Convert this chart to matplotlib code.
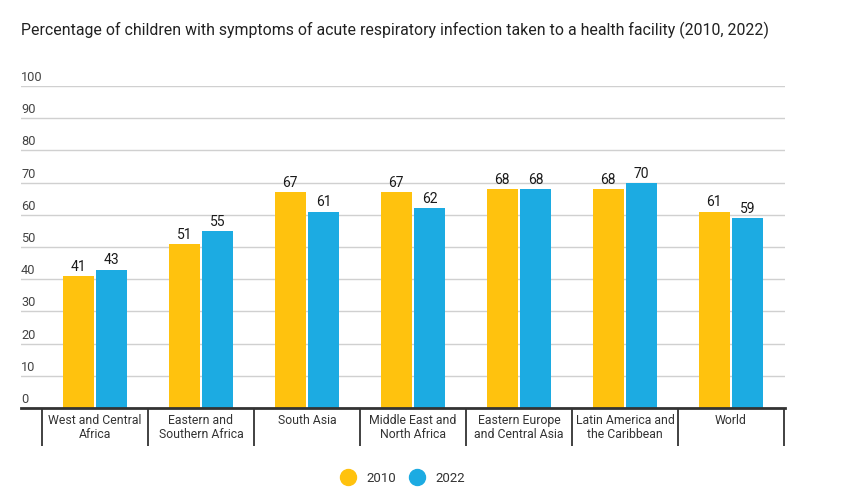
import matplotlib
matplotlib.use("Agg")
import matplotlib.pyplot as plt
from matplotlib.lines import Line2D
import numpy as np

plt.rcParams['font.family'] = ['Roboto', 'DejaVu Sans']

categories = ["West and Central\nAfrica", "Eastern and\nSouthern Africa", "South Asia",
              "Middle East and\nNorth Africa", "Eastern Europe\nand Central Asia",
              "Latin America and\nthe Caribbean", "World"]
values_2010 = [41, 51, 67, 67, 68, 68, 61]
values_2022 = [43, 55, 61, 62, 68, 70, 59]
series_names = ["2010", "2022"]
yticks = [0, 10, 20, 30, 40, 50, 60, 70, 80, 90, 100]

c2010 = "#FFC20E"
c2022 = "#1CABE2"

W, H = 865, 498
fig = plt.figure(figsize=(W/100, H/100), dpi=100)
ax = fig.add_axes([21/W, 1-408/H, (785-21)/W, (408-86)/H])

x = np.arange(len(categories))
bw = 0.295
off = 0.158
b1 = ax.bar(x - off, values_2010, bw, color=c2010, zorder=3)
b2 = ax.bar(x + off, values_2022, bw, color=c2022, zorder=3)

for bars, vals in ((b1, values_2010), (b2, values_2022)):
    for r, v in zip(bars, vals):
        ax.annotate(str(v), (r.get_x() + r.get_width()/2, v), xytext=(0, 1.5),
                    textcoords="offset points", ha="center", va="bottom",
                    fontsize=10, color="#1a1a1a")

ax.set_ylim(0, 100)
ax.set_xlim(-0.5 - 21/106, 6.5 + 1/106)

ax.set_yticks(yticks)
ax.yaxis.grid(True, color="#d0d0d0", lw=1, zorder=0)
ax.tick_params(axis='y', length=0, labelleft=False)
for t in yticks:
    ax.annotate(str(t), (0, t), xycoords=('axes fraction', 'data'), xytext=(0, 1.5),
                textcoords='offset points', ha='left', va='bottom', fontsize=9.2, color="#444444")

ax.set_xticks(x)
ax.set_xticklabels(categories, fontsize=8.8, color="#333333", linespacing=1.15)
ax.set_xticks(np.arange(-0.5, 7.0, 1.0), minor=True)
ax.tick_params(axis='x', which='major', length=0, pad=4)
ax.tick_params(axis='x', which='minor', length=27.5, width=1.3, color="#333333", direction='out')

for s in ['top', 'right', 'left']:
    ax.spines[s].set_visible(False)
ax.spines['bottom'].set_color("#333333")
ax.spines['bottom'].set_linewidth(2)
ax.spines['bottom'].set_zorder(4)

fig.text(21/W, 1-30/H, "Percentage of children with symptoms of acute respiratory infection taken to a health facility (2010, 2022)",
         fontsize=11.45, color="#222222", ha='left', va='center')

handles = [Line2D([], [], marker='o', ls='none', markersize=11.5, color=c2010),
           Line2D([], [], marker='o', ls='none', markersize=11.5, color=c2022)]
fig.legend(handles, series_names, loc='center', bbox_to_anchor=(400/W, 1-478/H), ncol=2,
           frameon=False, fontsize=9.5, handletextpad=0.4, columnspacing=0.6,
           labelcolor="#333333")

fig.savefig("out.png", dpi=100)
